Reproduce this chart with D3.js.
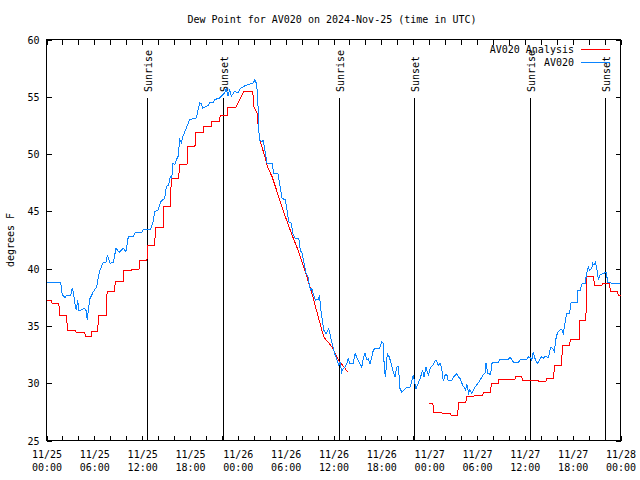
<!DOCTYPE html>
<html>
<head>
<meta charset="utf-8">
<script src="https://cdn.jsdelivr.net/npm/d3@7"></script>
<style>
  html, body { margin: 0; padding: 0; background: #fff; }
  svg { display: block; }
  text { font-family: "DejaVu Sans Mono", "Liberation Mono", monospace; font-size: 10px; fill: #000; }
</style>
</head>
<body>
<svg id="chart" width="640" height="480"></svg>
<script>
// ---------------- data ----------------
const titleText = "Dew Point for AV020 on 2024-Nov-25 (time in UTC)";
const yLabel = "degrees F";
const startUTC = Date.UTC(2024, 10, 25, 0, 0); // 11/25 00:00 UTC
const spanHours = 72;
const yTicks = [25, 30, 35, 40, 45, 50, 55, 60];
const seriesNames = ["AV020 Analysis", "AV020"];
const seriesColors = ["#ff0000", "#0a84ff"];

// sun events, hours after 11/25 00:00 UTC
const sunLabels = ["Sunrise", "Sunset", "Sunrise", "Sunset", "Sunrise", "Sunset"];
const sunHours = [12.67, 22.2, 36.69, 46.22, 60.65, 70.18];

// AV020 Analysis (hours, degF) - null marks a gap
const analysis = [
[0,37.2],[0.62,37.2],[0.7,36.96],[1.55,36.96],[1.65,35.92],[2.5,35.92],[2.65,34.6],[3.65,34.6],
[3.72,34.4],[4.8,34.4],[4.88,34.07],[5.6,34.07],[5.7,34.5],[6.4,34.5],[6.55,35.9],[7.5,35.9],
[7.6,38.0],[8.55,38.0],[8.62,38.85],[9.6,38.85],[9.68,39.8],[10.65,39.8],[10.72,39.96],[11.6,39.96],
[11.7,40.7],[12.6,40.7],[12.7,42.06],[13.55,42.06],[13.7,43.6],[14.62,43.6],[14.72,45.4],[15.55,45.4],
[15.65,47.9],[16.58,47.9],[16.68,49.06],[17.62,49.06],[17.75,50.67],[18.62,50.67],[18.75,51.9],[19.65,51.9],
[19.72,52.4],[20.65,52.4],[20.75,52.85],[21.7,52.85],[21.8,53.4],[22.65,53.4],[22.75,54.1],[23.75,54.1],
[24.8,55.5],[25.87,55.5],[26.0,54.15],[26.41,53.58],[26.62,51.98],[26.82,51.1],[27.45,49.64],[27.78,48.77],
[28.29,48.04],[29.12,46.29],[29.96,44.54],[30.8,42.94],[31.63,41.48],[32.47,39.73],[33.3,37.83],[34.14,35.65],
[34.77,34.04],[35.81,33.17],[36.65,32.0],[37.32,31.42],[37.78,30.98],
null,
[48.0,28.24],[48.45,28.24],[48.6,27.45],[49.6,27.45],[49.65,27.33],[50.7,27.33],[50.75,27.16],[51.55,27.16],
[51.7,28.33],[52.6,28.33],[52.7,28.85],[53.6,28.85],[53.65,28.94],[54.7,28.94],[54.8,29.2],[55.7,29.2],
[55.8,30.01],[56.65,30.01],[56.72,30.3],[58.75,30.3],[58.85,30.57],[59.6,30.57],[59.7,30.25],[61.65,30.25],
[61.75,30.16],[62.65,30.16],[62.72,30.45],[63.6,30.45],[63.72,31.56],[64.6,31.56],[64.72,33.3],[65.6,33.3],
[65.72,33.8],[66.85,33.8],[66.9,35.5],[67.65,35.5],[67.8,39.29],[68.6,39.29],[68.75,38.56],[69.65,38.56],
[69.75,38.7],[70.6,38.7],[70.75,37.98],[71.6,37.98],[71.75,37.69],[72,37.69]
];

// AV020 observations (hours, degF)
const observed = [
[0,38.8],[1.78,38.8],[1.98,37.69],[2.32,37.49],[2.57,37.69],[3.04,37.69],[3.24,38.34],[3.45,37.54],
[3.66,36.52],[3.76,36.44],[3.91,37.25],[4.08,36.29],[4.49,36.44],[4.7,36.55],[4.95,36.38],[5.12,35.56],
[5.24,36.38],[5.46,37.4],[5.87,37.98],[6.3,38.41],[6.5,39.29],[6.71,39.88],[7.12,40.55],[7.46,40.55],
[7.63,41.19],[7.97,40.46],[8.38,40.55],[8.72,41.77],[9.13,41.42],[9.63,41.77],[9.97,41.48],[10.26,42.79],
[10.89,42.79],[11.1,43.14],[11.94,43.14],[12.14,43.44],[13.07,43.44],[13.36,44.1],[13.57,44.98],[13.99,45.13],
[14.33,45.85],[14.83,46.15],[15.03,47.16],[15.33,47.31],[15.53,48.04],[15.71,47.9],[15.87,49.21],[16.08,49.06],
[16.28,49.5],[16.5,49.79],[16.71,51.25],[16.91,51.01],[17.12,51.54],[17.54,52.27],[17.96,53.0],[18.79,53.15],
[19.22,54.46],[19.44,54.4],[19.59,54.02],[20.26,54.23],[20.47,54.46],[20.89,54.46],[21.1,54.75],[21.73,54.9],
[22.35,55.34],[22.55,55.71],[22.77,55.1],[22.98,55.63],[23.18,55.04],[23.61,55.48],[24.02,55.34],[24.27,55.69],
[24.9,55.97],[25.94,56.21],[26.15,56.5],[26.37,56.06],[26.53,54.16],[26.69,51.25],[27.0,51.1],[27.2,51.2],
[27.45,50.09],[27.66,49.21],[28.29,49.21],[28.5,48.28],[29.04,48.28],[29.2,47.6],[29.54,46.15],[29.95,46.0],
[30.17,45.13],[30.38,44.1],[30.71,43.96],[30.88,43.09],[31.21,42.65],[31.64,42.65],[31.84,41.62],[32.05,41.34],
[32.39,40.16],[32.55,39.59],[32.8,39.29],[33.09,38.13],[33.3,38.27],[33.39,37.98],[33.72,37.25],[34.06,37.31],
[34.24,37.6],[34.47,36.09],[34.77,34.63],[35.06,34.34],[35.4,34.77],[35.73,33.75],[36.15,32.59],[36.44,32.0],
[36.65,31.56],[36.82,31.85],[37.03,30.98],[37.23,31.27],[37.44,31.41],[37.66,31.71],[37.86,32.15],[38.07,31.71],
[38.48,31.71],[38.7,32.59],[38.91,32.29],[39.11,32.0],[39.54,31.41],[39.74,32.15],[39.95,32.67],[40.17,32.06],
[40.37,32.15],[40.58,31.71],[40.79,32.29],[40.99,32.87],[41.21,33.02],[41.75,33.02],[42.05,33.6],[42.25,33.46],
[42.37,31.27],[42.52,30.54],[42.75,32.59],[43.0,32.29],[43.3,31.56],[43.5,30.98],[43.72,30.54],[43.93,31.41],
[44.13,31.48],[44.34,29.55],[44.56,29.23],[45.18,29.66],[45.6,29.66],[46.01,30.69],[46.35,29.52],[46.85,30.4],
[47.19,31.13],[47.35,30.54],[47.6,31.41],[47.89,30.69],[48.19,31.41],[48.44,31.56],[48.73,31.94],[48.95,31.94],
[49.15,31.56],[49.36,31.76],[49.57,31.27],[49.77,30.19],[49.99,30.69],[50.2,30.78],[50.4,30.19],[50.83,30.25],
[51.03,30.54],[51.46,30.84],[51.66,30.54],[51.87,30.4],[52.21,29.81],[52.37,29.66],[52.58,29.38],[52.71,29.96],
[52.96,29.14],[53.12,29.44],[53.34,29.09],[53.75,29.66],[54.38,30.25],[54.79,30.75],[55.0,30.84],[55.13,31.8],
[55.34,30.84],[55.72,30.78],[55.84,31.71],[56.13,31.85],[56.67,31.85],[56.89,32.06],[57.93,32.06],[58.14,32.29],
[58.56,31.85],[59.18,31.8],[59.48,32.09],[60.24,32.09],[60.44,32.29],[60.74,32.23],[60.86,32.0],[61.06,32.73],
[61.28,32.15],[61.57,31.71],[61.82,32.0],[62.12,32.35],[62.32,32.15],[62.53,32.35],[62.95,32.24],[63.16,32.88],
[63.28,33.11],[63.5,33.02],[63.7,32.73],[63.91,33.9],[64.07,34.34],[64.33,34.62],[64.63,34.69],[64.83,34.34],
[65.04,35.27],[65.25,36.09],[65.6,36.09],[65.79,37.01],[66.55,37.01],[66.67,38.13],[66.98,38.13],[67.13,38.65],
[67.55,38.71],[67.76,39.58],[67.96,40.16],[68.11,39.88],[68.39,40.02],[68.51,40.46],[68.68,40.31],[68.84,40.55],
[69.02,40.02],[69.22,39.09],[69.43,39.44],[69.84,39.57],[70.06,39.64],[70.25,39.64],[70.37,38.78],[72,38.65]
];

// ---------------- drawing ----------------
const svg = d3.select("#chart");
const toDate = h => new Date(startUTC + h * 3600e3);

const x = d3.scaleUtc().domain([toDate(0), toDate(spanHours)]).range([46.5, 620.5]);
const y = d3.scaleLinear().domain([25, 60]).range([440.5, 39.5]);

// title
svg.append("text").attr("x", 332).attr("y", 23).attr("text-anchor", "middle").text(titleText);

// y label
svg.append("text").attr("transform", "translate(14,240) rotate(-90)")
  .attr("text-anchor", "middle").text(yLabel);

const fmtDate = d3.utcFormat("%m/%d"), fmtTime = d3.utcFormat("%H:%M");
const xTickVals = d3.utcHour.every(2).range(toDate(0), toDate(spanHours + 0.01));

// bottom axis
const gx = svg.append("g").attr("transform", "translate(0,440.5)")
  .call(d3.axisBottom(x).tickValues(xTickVals).tickSize(-5).tickFormat(""));
gx.select(".domain").remove();
gx.selectAll(".tick").each(function(d) {
  if (d.getUTCHours() % 6 !== 0) return;
  const t = d3.select(this).select("text").attr("y", 17).attr("dy", null).attr("fill", "#000");
  t.append("tspan").attr("x", 0).attr("dy", 0).text(fmtDate(d));
  t.append("tspan").attr("x", 0).attr("dy", 13.5).text(fmtTime(d));
});
// top axis ticks
const gxt = svg.append("g").attr("transform", "translate(0,39.5)")
  .call(d3.axisTop(x).tickValues(xTickVals).tickSize(-5).tickFormat(""));
gxt.select(".domain").remove();

// left axis
const gy = svg.append("g").attr("transform", "translate(46.5,0)")
  .call(d3.axisLeft(y).tickValues(yTicks).tickSize(-5).tickPadding(7).tickFormat(d3.format("d")));
gy.select(".domain").remove();
gy.selectAll("text").attr("fill", "#000").attr("dy", "0.35em");
// right axis ticks
const gyr = svg.append("g").attr("transform", "translate(620.5,0)")
  .call(d3.axisRight(y).tickValues(yTicks).tickSize(-5).tickFormat(""));
gyr.select(".domain").remove();

svg.selectAll(".tick line").attr("stroke", "#000").attr("shape-rendering", "crispEdges");
svg.selectAll(".tick text").style("font-family", "'DejaVu Sans Mono', monospace").style("font-size", "10px");

// border
svg.append("rect").attr("x", 46.5).attr("y", 39.5).attr("width", 574).attr("height", 401)
  .attr("fill", "none").attr("stroke", "#000").attr("shape-rendering", "crispEdges");

// sunrise / sunset markers
const sun = svg.append("g");
sunHours.forEach((h, i) => {
  const xx = Math.round(x(toDate(h)) - 0.5) + 0.5;
  sun.append("line").attr("x1", xx).attr("x2", xx).attr("y1", 98).attr("y2", 440)
    .attr("stroke", "#000").attr("shape-rendering", "crispEdges");
  sun.append("text").attr("transform", `translate(${xx + 4},92) rotate(-90)`)
    .attr("text-anchor", "start").text(sunLabels[i]);
});

// series
const line = d3.line()
  .defined(d => d !== null)
  .x(d => x(toDate(d[0])))
  .y(d => y(d[1]));

svg.append("path").datum(analysis).attr("d", line)
  .attr("fill", "none").attr("stroke", seriesColors[0]).attr("stroke-width", 1)
  .attr("shape-rendering", "crispEdges");
svg.append("path").datum(observed).attr("d", line)
  .attr("fill", "none").attr("stroke", seriesColors[1]).attr("stroke-width", 1)
  .attr("shape-rendering", "crispEdges");

// legend
const legendY = [49.5, 62.5];
seriesNames.forEach((name, i) => {
  svg.append("text").attr("x", 574).attr("y", legendY[i]).attr("dy", "0.35em")
    .attr("text-anchor", "end").text(name);
  svg.append("line").attr("x1", 581).attr("x2", 610).attr("y1", legendY[i]).attr("y2", legendY[i])
    .attr("stroke", seriesColors[i]).attr("shape-rendering", "crispEdges");
});
</script>
</body>
</html>
